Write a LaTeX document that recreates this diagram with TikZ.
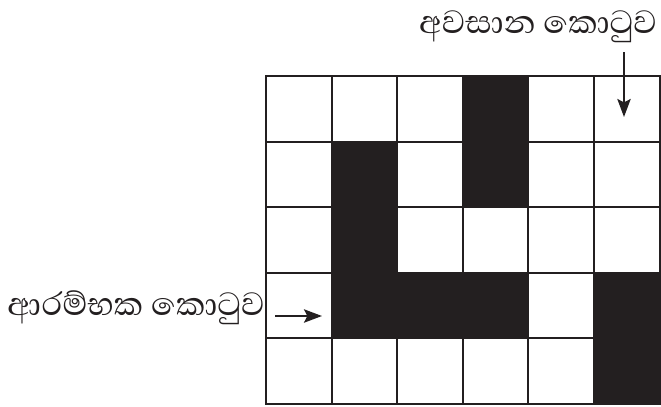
\documentclass[tikz,border=0pt]{standalone}
\usepackage{fontspec}
\newfontfamily\sinhala[Script=Sinhala]{Abhaya Libre}
\usetikzlibrary{arrows.meta}
\definecolor{ink}{RGB}{35,31,32}

\begin{document}
\begin{tikzpicture}[x=0.75pt,y=-0.75pt,>={Stealth[length=13.5pt,width=10pt,inset=2.5pt]},
  cell/.style={draw=ink,line width=1.5pt,minimum size=49.2pt,inner sep=0pt},
  lbl/.style={font=\sinhala\fontsize{31}{34}\selectfont,inner sep=0pt,text=ink},
  every path/.style={line width=1.5pt}]
\useasboundingbox (0,0) rectangle (661,407);
\foreach \r in {0,...,4}
  \foreach \c in {0,...,5}
    \node[cell] (c\r\c) at ({266+65.6*(\c+0.5)},{76+65.6*(\r+0.5)}) {};
\foreach \k in {03,11,13,21,31,32,33,35,45}
  \fill[ink] (c\k.north west) rectangle (c\k.south east);
\node[lbl] (endlbl) at (538,27) {අවසාන කොටුව};
\node[lbl] (startlbl) at (136,308) {ආරම්භක කොටුව};
\coordinate (endtail) at (624,52);
\coordinate (endtip) at (624,117);
\coordinate (starttail) at (275,316);
\coordinate (starttip) at (322,316);
\draw[->,ink] (endtail) -- (endtip);
\draw[->,ink] (starttail) -- (starttip);
\end{tikzpicture}
\end{document}
